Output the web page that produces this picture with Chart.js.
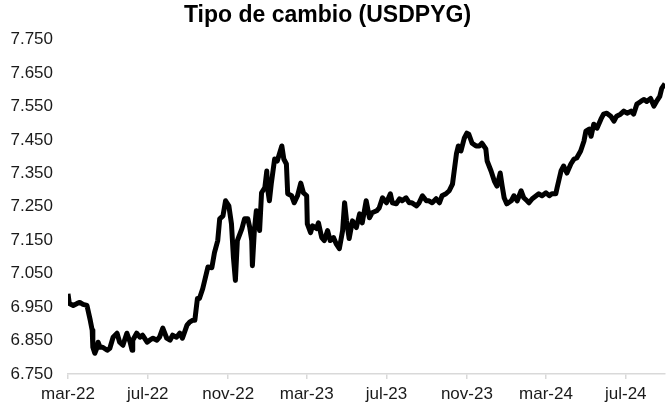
<!DOCTYPE html>
<html><head><meta charset="utf-8">
<script src="https://cdn.jsdelivr.net/npm/chart.js@4"></script>
<style>html,body{margin:0;padding:0;background:#fff}#wrap{width:669px;height:415px}</style>
</head><body><div id="wrap"><canvas id="c" width="669" height="415"></canvas></div>
<script>
const chartTitle = 'Tipo de cambio (USDPYG)';
const dates = ['2022-03-01','2022-03-03','2022-03-09','2022-03-15','2022-03-19','2022-03-24','2022-03-30','2022-04-04','2022-04-07','2022-04-08','2022-04-11','2022-04-14','2022-04-16','2022-04-19','2022-04-23','2022-04-30','2022-05-04','2022-05-09','2022-05-15','2022-05-19','2022-05-24','2022-05-30','2022-06-04','2022-06-07','2022-06-08','2022-06-14','2022-06-19','2022-06-23','2022-06-30','2022-07-04','2022-07-09','2022-07-15','2022-07-19','2022-07-24','2022-07-30','2022-08-04','2022-08-08','2022-08-14','2022-08-19','2022-08-23','2022-08-30','2022-09-03','2022-09-08','2022-09-11','2022-09-14','2022-09-15','2022-09-18','2022-09-23','2022-10-01','2022-10-07','2022-10-11','2022-10-16','2022-10-19','2022-10-24','2022-10-28','2022-11-02','2022-11-06','2022-11-09','2022-11-12','2022-11-15','2022-11-22','2022-11-26','2022-12-01','2022-12-04','2022-12-07','2022-12-08','2022-12-11','2022-12-14','2022-12-19','2022-12-22','2022-12-27','2022-12-30','2022-12-31','2023-01-03','2023-01-06','2023-01-11','2023-01-15','2023-01-22','2023-01-25','2023-01-29','2023-01-31','2023-02-06','2023-02-10','2023-02-15','2023-02-20','2023-02-24','2023-03-01','2023-03-02','2023-03-07','2023-03-10','2023-03-16','2023-03-19','2023-03-24','2023-03-28','2023-04-02','2023-04-06','2023-04-11','2023-04-15','2023-04-20','2023-04-25','2023-04-28','2023-05-01','2023-05-05','2023-05-10','2023-05-16','2023-05-21','2023-05-25','2023-05-31','2023-06-05','2023-06-09','2023-06-16','2023-06-20','2023-06-25','2023-07-01','2023-07-07','2023-07-10','2023-07-16','2023-07-21','2023-07-25','2023-07-31','2023-08-05','2023-08-09','2023-08-16','2023-08-20','2023-08-25','2023-08-31','2023-09-04','2023-09-09','2023-09-15','2023-09-20','2023-09-24','2023-09-30','2023-10-05','2023-10-10','2023-10-16','2023-10-19','2023-10-23','2023-10-28','2023-11-01','2023-11-04','2023-11-09','2023-11-15','2023-11-20','2023-11-24','2023-11-30','2023-12-02','2023-12-08','2023-12-13','2023-12-17','2023-12-22','2023-12-25','2023-12-28','2024-01-01','2024-01-08','2024-01-12','2024-01-17','2024-01-23','2024-01-27','2024-02-01','2024-02-04','2024-02-09','2024-02-15','2024-02-19','2024-02-24','2024-03-01','2024-03-06','2024-03-10','2024-03-16','2024-03-18','2024-03-24','2024-03-28','2024-04-02','2024-04-08','2024-04-13','2024-04-17','2024-04-23','2024-04-28','2024-05-01','2024-05-06','2024-05-09','2024-05-13','2024-05-18','2024-05-24','2024-05-28','2024-06-02','2024-06-08','2024-06-13','2024-06-17','2024-06-23','2024-06-28','2024-07-03','2024-07-09','2024-07-13','2024-07-18','2024-07-24','2024-07-29','2024-08-02','2024-08-08','2024-08-13','2024-08-17','2024-08-22','2024-08-25','2024-08-30'];
const usdpyg = [6990,6961,6955,6961,6964,6958,6955,6911,6881,6830,6812,6827,6845,6830,6830,6821,6827,6860,6872,6845,6836,6872,6845,6821,6851,6872,6860,6866,6845,6851,6857,6851,6860,6887,6857,6851,6866,6860,6872,6857,6896,6905,6911,6911,6961,6976,6976,7005,7070,7068,7113,7149,7214,7223,7268,7253,7199,7098,7030,7149,7185,7214,7214,7188,7149,7074,7179,7238,7179,7292,7307,7357,7307,7268,7321,7393,7387,7432,7393,7378,7289,7283,7262,7283,7321,7292,7283,7199,7173,7193,7185,7202,7158,7149,7179,7149,7158,7140,7125,7179,7262,7208,7155,7208,7188,7229,7202,7268,7217,7232,7238,7247,7277,7262,7289,7262,7259,7274,7268,7277,7262,7262,7253,7262,7283,7268,7268,7262,7274,7262,7283,7289,7298,7318,7408,7432,7417,7455,7470,7467,7440,7432,7432,7440,7423,7387,7357,7327,7312,7351,7312,7277,7259,7268,7283,7268,7298,7277,7268,7262,7274,7283,7289,7283,7292,7283,7289,7289,7307,7357,7372,7351,7378,7393,7396,7417,7446,7476,7482,7461,7497,7485,7512,7527,7530,7521,7506,7521,7527,7536,7530,7536,7527,7557,7565,7571,7565,7574,7551,7565,7580,7604,7618];
const tickDates = ['2022-03-01','2022-07-01','2022-11-01','2023-03-01','2023-07-01','2023-11-01','2024-03-01','2024-07-01'];
const tickLabels = ['mar-22','jul-22','nov-22','mar-23','jul-23','nov-23','mar-24','jul-24'];
const yMin = 6750, yMax = 7750, yStep = 100;

const points = dates.map((d, i) => ({ x: Date.parse(d), y: usdpyg[i] }));
const fmt = v => String(v).replace(/(\d)(\d{3})$/, '$1.$2');

const titleShift = {
  id: 'titleShift',
  afterLayout(chart) { if (chart.titleBlock) chart.titleBlock.right -= 10; }
};

new Chart(document.getElementById('c'), {
  type: 'line',
  data: { datasets: [{
    data: points,
    borderColor: '#000000',
    borderWidth: 5,
    pointRadius: 0,
    tension: 0,
    borderJoinStyle: 'round',
    borderCapStyle: 'butt',
    fill: false
  }]},
  options: {
    responsive: false,
    animation: false,
    devicePixelRatio: 1,
    layout: { padding: { left: 0, right: 4, top: 0, bottom: 0 } },
    plugins: {
      legend: { display: false },
      tooltip: { enabled: false },
      title: {
        display: true,
        text: chartTitle,
        color: '#000000',
        font: { family: '"Liberation Sans", Arial, sans-serif', size: 23, weight: 'bold' },
        padding: { top: 2, bottom: 10 }
      }
    },
    scales: {
      x: {
        type: 'linear',
        min: Date.parse(dates[0]),
        max: Date.parse(dates[dates.length - 1]),
        afterBuildTicks(scale) { scale.ticks = tickDates.map(d => ({ value: Date.parse(d) })); },
        afterFit(scale) { scale.height = 41; },
        ticks: {
          autoSkip: false, maxRotation: 0, padding: 5,
          color: '#1a1a1a',
          font: { family: '"Liberation Sans", Arial, sans-serif', size: 17 },
          callback: (v, i) => tickLabels[i]
        },
        grid: { display: true, drawOnChartArea: false, drawTicks: true, tickLength: 5, color: '#d9d9d9', lineWidth: 1.5 },
        border: { display: true, color: '#d9d9d9', width: 1.5 }
      },
      y: {
        min: yMin, max: yMax,
        afterFit(scale) { scale.width = 68; },
        ticks: {
          stepSize: yStep, padding: 7,
          color: '#1a1a1a',
          font: { family: '"Liberation Sans", Arial, sans-serif', size: 17 },
          callback: v => fmt(v)
        },
        grid: { display: false, drawTicks: true, tickLength: 8 },
        border: { display: false }
      }
    }
  },
  plugins: [titleShift]
});
</script>
</body></html>
